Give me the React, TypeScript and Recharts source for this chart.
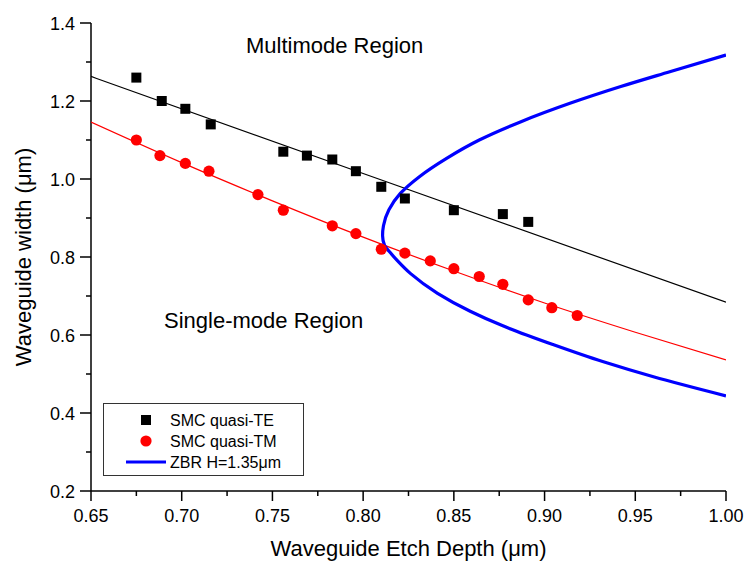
import React from 'react';
import { ComposedChart, Scatter, XAxis, YAxis } from 'recharts';

const FONT = '"Liberation Sans", Arial, Helvetica, sans-serif';

// Measured data
const teData = [
  { x: 0.675, y: 1.26 }, { x: 0.689, y: 1.2 }, { x: 0.702, y: 1.18 }, { x: 0.716, y: 1.14 },
  { x: 0.756, y: 1.07 }, { x: 0.769, y: 1.06 }, { x: 0.783, y: 1.05 }, { x: 0.796, y: 1.02 },
  { x: 0.81, y: 0.98 }, { x: 0.823, y: 0.95 }, { x: 0.85, y: 0.92 }, { x: 0.877, y: 0.91 },
  { x: 0.891, y: 0.89 },
];
const tmData = [
  { x: 0.675, y: 1.1 }, { x: 0.688, y: 1.06 }, { x: 0.702, y: 1.04 }, { x: 0.715, y: 1.02 },
  { x: 0.742, y: 0.96 }, { x: 0.756, y: 0.92 }, { x: 0.783, y: 0.88 }, { x: 0.796, y: 0.86 },
  { x: 0.81, y: 0.82 }, { x: 0.823, y: 0.81 }, { x: 0.837, y: 0.79 }, { x: 0.85, y: 0.77 },
  { x: 0.864, y: 0.75 }, { x: 0.877, y: 0.73 }, { x: 0.891, y: 0.69 }, { x: 0.904, y: 0.67 },
  { x: 0.918, y: 0.65 },
];
// Fit curves
const teFit = [{ x: 0.65, y: 1.263 }, { x: 0.8, y: 1.014 }, { x: 1.0, y: 0.684 }];
const tmFit = [
  { x: 0.65, y: 1.146 }, { x: 0.7, y: 1.042 }, { x: 0.75, y: 0.944 }, { x: 0.8, y: 0.851 },
  { x: 0.85, y: 0.764 }, { x: 0.9, y: 0.682 }, { x: 0.95, y: 0.607 }, { x: 1.0, y: 0.536 },
];
const zbrCurve = [
  { x: 1.0, y: 1.318 }, { x: 0.969, y: 1.275 }, { x: 0.942, y: 1.237 }, { x: 0.914, y: 1.194 },
  { x: 0.887, y: 1.147 }, { x: 0.864, y: 1.1 }, { x: 0.846, y: 1.053 }, { x: 0.831, y: 1.006 },
  { x: 0.8205, y: 0.963 }, { x: 0.8142, y: 0.921 }, { x: 0.8112, y: 0.88 }, { x: 0.8107, y: 0.855 },
  { x: 0.8118, y: 0.83 }, { x: 0.8148, y: 0.812 }, { x: 0.819, y: 0.79 }, { x: 0.826, y: 0.758 },
  { x: 0.841, y: 0.707 }, { x: 0.859, y: 0.661 }, { x: 0.877, y: 0.6235 }, { x: 0.905, y: 0.575 },
  { x: 0.932, y: 0.532 }, { x: 0.96, y: 0.493 }, { x: 1.0, y: 0.444 },
];

const xTicks = [0.65, 0.675, 0.7, 0.725, 0.75, 0.775, 0.8, 0.825, 0.85, 0.875, 0.9, 0.925, 0.95, 0.975, 1.0];
const yTicks = [0.2, 0.3, 0.4, 0.5, 0.6, 0.7, 0.8, 0.9, 1.0, 1.1, 1.2, 1.3, 1.4];

const xTitle = 'Waveguide Etch Depth (\u03BCm)';
const yTitle = 'Waveguide width (\u03BCm)';
const multiLabel = 'Multimode Region';
const singleLabel = 'Single-mode Region';
const legendItems = ['SMC quasi-TE', 'SMC quasi-TM', 'ZBR H=1.35\u03BCm'];

const XTick = (p: any) => {
  const { x, y, payload } = p;
  const v = payload.value as number;
  const major = Math.round(v * 1000) % 50 === 0;
  return (
    <g>
      <line x1={x} x2={x} y1={y} y2={y + (major ? 10 : 5)} stroke="#000" strokeWidth={1.5} />
      {major && (
        <text x={x} y={y + 31} textAnchor="middle" fontSize={18} fill="#000" fontFamily={FONT}>
          {v.toFixed(2)}
        </text>
      )}
    </g>
  );
};

const YTick = (p: any) => {
  const { x, y, payload } = p;
  const v = payload.value as number;
  const major = Math.round(v * 10) % 2 === 0;
  return (
    <g>
      <line x1={x - (major ? 11 : 5)} x2={x} y1={y} y2={y} stroke="#000" strokeWidth={1.5} />
      {major && (
        <text x={x - 16} y={y + 6.5} textAnchor="end" fontSize={18} fill="#000" fontFamily={FONT}>
          {v.toFixed(1)}
        </text>
      )}
    </g>
  );
};

const Square = (p: any) => <rect x={p.cx - 5} y={p.cy - 5} width={10} height={10} fill="#000" />;
const Dot = (p: any) => <circle cx={p.cx} cy={p.cy} r={5.6} fill="#ff0000" />;
const NoShape = () => <g />;

export default function App() {
  return (
    <div style={{ position: 'absolute', left: 0, top: 0, width: 746, height: 563, background: '#fff', fontFamily: FONT }}>
      <ComposedChart width={746} height={563} margin={{ top: 23, right: 20, bottom: 71, left: 90 }}>
        <XAxis
          type="number"
          dataKey="x"
          domain={[0.65, 1.0]}
          ticks={xTicks}
          interval={0}
          allowDataOverflow
          height={1}
          tickSize={0}
          tickMargin={0}
          tickLine={false}
          tick={<XTick />}
          axisLine={{ stroke: '#000', strokeWidth: 1.5 }}
          label={{
            content: () => (
              <text x={408.5} y={556} textAnchor="middle" fontSize={22} fill="#000" fontFamily={FONT}>
                {xTitle}
              </text>
            ),
          }}
        />
        <YAxis
          type="number"
          dataKey="y"
          domain={[0.2, 1.4]}
          ticks={yTicks}
          interval={0}
          allowDataOverflow
          width={1}
          tickSize={0}
          tickMargin={0}
          tickLine={false}
          tick={<YTick />}
          axisLine={{ stroke: '#000', strokeWidth: 1.5 }}
          label={{
            content: () => {
              const cx = 31;
              const cy = 257;
              return (
                <text x={cx} y={cy} transform={`rotate(-90, ${cx}, ${cy})`} textAnchor="middle" fontSize={22} fill="#000" fontFamily={FONT}>
                  {yTitle}
                </text>
              );
            },
          }}
        />
        <Scatter data={teFit} line={{ stroke: '#000', strokeWidth: 1.2 }} lineJointType="monotoneX" shape={<NoShape />} isAnimationActive={false} />
        <Scatter data={tmFit} line={{ stroke: '#ff0000', strokeWidth: 1.2 }} lineJointType="monotoneX" shape={<NoShape />} isAnimationActive={false} />
        <Scatter data={zbrCurve} line={{ stroke: '#0000ff', strokeWidth: 3.2 }} lineJointType="monotoneY" shape={<NoShape />} isAnimationActive={false} />
        <Scatter data={teData} shape={<Square />} isAnimationActive={false} />
        <Scatter data={tmData} shape={<Dot />} isAnimationActive={false} />
      </ComposedChart>
      <svg width={746} height={563} style={{ position: 'absolute', left: 0, top: 0, pointerEvents: 'none' }}>
        <text x={246} y={53} fontSize={22} fill="#000" fontFamily={FONT}>{multiLabel}</text>
        <text x={164} y={328} fontSize={22} fill="#000" fontFamily={FONT}>{singleLabel}</text>
        <g>
          <rect x={103.5} y={403.5} width={200} height={72} fill="#fff" stroke="#333" strokeWidth={1} />
          <rect x={141} y={415} width={10} height={10} fill="#000" />
          <circle cx={146} cy={441} r={5.6} fill="#ff0000" />
          <line x1={126} x2={166} y1={462} y2={462} stroke="#0000ff" strokeWidth={3} />
          <text x={170} y={426} fontSize={16} fill="#000" fontFamily={FONT}>{legendItems[0]}</text>
          <text x={170} y={447} fontSize={16} fill="#000" fontFamily={FONT}>{legendItems[1]}</text>
          <text x={170} y={468} fontSize={16} fill="#000" fontFamily={FONT}>{legendItems[2]}</text>
        </g>
      </svg>
    </div>
  );
}
